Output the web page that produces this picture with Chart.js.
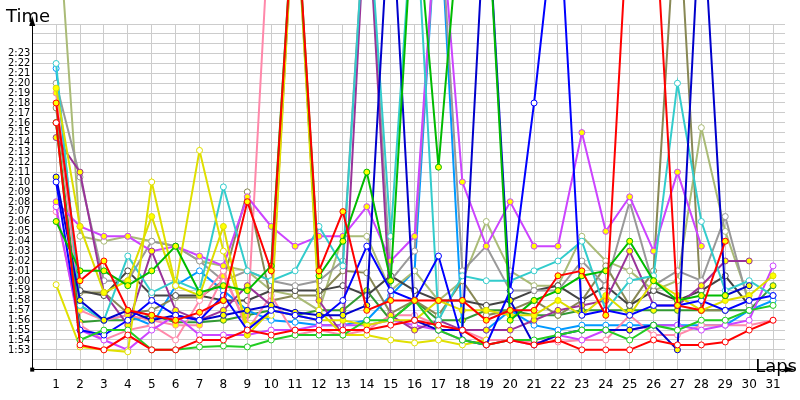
<!DOCTYPE html>
<html><head><meta charset="utf-8">
<script src="https://cdn.jsdelivr.net/npm/chart.js@4/dist/chart.umd.min.js"></script>
<style>html,body{margin:0;padding:0;background:#fff}</style>
</head><body><canvas id="c" width="800" height="400" style="width:800px;height:400px"></canvas>
<script>
const laps = [1,2,3,4,5,6,7,8,9,10,11,12,13,14,15,16,17,18,19,20,21,22,23,24,25,26,27,28,29,30,31];
const OFF = 160; // off-chart (pit stop) values
const red1 = [136,113.5,113,114.5,113,113,114,114,115,114.5,115,115,115,115,115.5,116,115.5,115,113.5,114,113.5,114,113,113,113,114,113.5,113.5,113.8,115,116];
const red2 = [138,120,122,117,116.5,116,116.8,118,128,121,OFF,121,127,117,118,118,118,118,116,117,117,120.5,121,116.5,OFF,OFF,117.5,117,124,null,null];
const green1 = [136,114,115,115,113,113,113.3,113.4,113.3,114,114.5,114.5,114.5,116,116,118,115,114,113.5,114,114,114.5,115,115,114,115.5,115,116,116,117,117.5];
const green2 = [126,121,121,119.5,121,123.5,118.8,119.5,119,121.5,OFF,120.5,124,131,120,OFF,131.5,OFF,OFF,116,118,119,120.5,121,124,120,118,118.5,118.5,null,null];
const blue1 = [130,115,114.5,116,118,116.5,116,118.5,115,117,116.5,116,118,123.5,119,118,122.5,114,113.5,119,138,OFF,116.5,117,116.5,117.5,117.5,118,117,118,118.5];
const navy1 = [130.5,118,116,117,116,116.5,116,116.5,117,117.5,116.8,116.5,116.5,117.5,OFF,116,115,115,OFF,118,113.5,114.5,115,115,115,115.5,113,OFF,118.5,119.5,null];
const yellow1 = [119.6,113.3,113,112.8,130,119.5,133.2,123,115.5,116.5,OFF,117,114.5,114.5,114,113.7,114,113.5,114,null,null,null,null,null,null,null,null,null,null,null,null];
const yellow2 = [139.5,125.5,118.8,120,126.5,119.5,118.5,125.5,114.5,117,116.5,116,116,115.5,116,116,118,117,117,116.5,116.5,118,116.5,118.5,116.5,120,118.5,117,118,118.5,120.5];
const cyan1 = [142,117.5,116,122.5,118.8,120,119,129.5,121,120,121,125.5,121.5,OFF,124.5,OFF,116,120.5,120,120,121,122,124,117,120,120.5,140,126,119,120,118.5];
const purple1 = [134.5,131,118.8,115.5,123,117,116,117,119.5,117.5,OFF,118,114.5,OFF,116.5,115,116,115,115,115,116,117,117.5,118,123,117.5,117.5,119.5,122,122,null];
const violet1 = [128,125.5,124.5,124.5,123,123.5,122.5,121.5,128.5,125.5,123.5,124.5,124.5,127.5,122,124.5,OFF,130,123.5,128,123.5,123.5,135,125,128.5,123,131,123.5,null,null,null];
const violet2 = [127.5,115,114,113,115,116.5,114.5,114.5,114.5,115,115,115.5,115.5,115.5,116,115.5,115,114,113.5,114,113.5,114.5,114,115,115,115.5,115.5,115,115.5,116,121.5];
const pink1 = [127,115.5,114,115,115.5,114,118,121,115,118.5,114.5,115,114.5,115,116.5,116.5,115.5,115,114,114,113.8,113.8,114,114,116.5,114.5,114.5,115.5,115.5,115.5,116];
const pink2 = [139,117,116,116.5,116,115.5,115.5,120.5,115.5,OFF,null,null,null,null,null,null,null,null,null,null,null,null,null,null,null,null,null,null,null,null,null];
const gray1 = [140,130.5,120,120,124,123.5,122,120,121,120,119.5,120,122,OFF,120,123,OFF,121,123.5,119,119,119,122,119.5,128,119.5,121,120,126.5,117.5,null];
const dgray1 = [null,119,118.5,121,118.5,118.5,118.5,118,118,119,119,119,119.5,118.5,120.5,119,118,118,117.5,118,119,119.5,118,119.5,117.5,119,118,119,120.5,117.5,null];
const olive1 = [137.5,118.8,118.8,116.7,117,118.3,118.3,120,129,118,118.5,118.5,121,120.8,116.7,118,116.5,120,116.5,117,118,116.5,118,121.5,117.5,121,OFF,117,117,null,null];
const lolive1 = [OFF,124.5,124,124.5,124,123.5,122,121.5,121,119,118.5,117,124.5,124.5,119,121,118,120,126,121,119.5,119.5,124.5,122,121,119,120,135.5,125,118,null];
const sky1 = [141.5,117.5,116,116.5,115.5,119.5,121,119,117,116,115.8,115.5,115.5,116,118.5,121,OFF,115,115,117,115.5,115,115.5,115.5,115.5,115.5,115.5,115.5,115.5,117,118];
const dgreen1 = [136,115.8,116,116,116.5,115.8,115.8,116,116.5,117,116.5,117,117,119,116,118,116,116,117,117,116.5,116.5,117,117,117,117,117,117,117,117,119.5];
const series = [
 [red1,'#ff0000','#fff'],[red2,'#ff0000','#ffff00'],[green1,'#22cc22','#fff'],[green2,'#00bb00','#ffff00'],
 [blue1,'#0000ff','#fff'],[navy1,'#0000cc','#ffff00'],[yellow1,'#e0e000','#fff'],[yellow2,'#dddd00','#ffff00'],
 [cyan1,'#33cccc','#fff'],[purple1,'#993399','#ffff00'],[violet1,'#cc44ff','#ffff00'],[violet2,'#cc44ff','#fff'],
 [pink1,'#ff88aa','#fff'],[pink2,'#ff88aa','#ffff00'],[gray1,'#999999','#fff'],[dgray1,'#444444','#fff'],
 [olive1,'#888855','#fff'],[lolive1,'#aabb77','#fff'],[sky1,'#0099ff','#fff'],[dgreen1,'#339933','#ffff00']
];
const fmt = v => Math.floor(v/60)+':'+String(v%60).padStart(2,'0');
const decor = {id:'decor',afterDraw(ch){const c=ch.ctx,a=ch.chartArea;c.save();
 c.fillStyle='#000';
 c.beginPath();c.moveTo(a.left,a.top-8);c.lineTo(a.left-3,a.top+2);c.lineTo(a.left+3,a.top+2);c.closePath();c.fill();
 c.beginPath();c.moveTo(a.right+10,a.bottom);c.lineTo(a.right,a.bottom-3);c.lineTo(a.right,a.bottom+3);c.closePath();c.fill();
 c.fillRect(a.left-2,a.bottom-2,4,4);
 c.font='18px "DejaVu Sans"';c.textBaseline='alphabetic';c.textAlign='left';c.fillText('Time',6,22);
 c.textAlign='right';c.fillText('Laps',797,372);c.restore();}};
new Chart(document.getElementById('c'),{type:'line',
 data:{datasets:series.map(([d,col,fill])=>({data:d.map((v,i)=>({x:laps[i],y:v})),borderColor:col,backgroundColor:fill,pointBackgroundColor:fill,pointBorderColor:col,borderWidth:2,pointRadius:3,pointBorderWidth:1,spanGaps:false,tension:0,clip:{left:5,right:5,top:30,bottom:5}}))},
 options:{responsive:false,animation:false,devicePixelRatio:1,layout:{padding:{top:24,right:15,left:6,bottom:0}},
  plugins:{legend:{display:false},tooltip:{enabled:false}},
  scales:{
   x:{type:'linear',min:0,max:31.5,grid:{color:'#cccccc',drawTicks:false},border:{color:'#000',width:1},
      afterBuildTicks:ax=>{ax.ticks=laps.map(v=>({value:v}))},
      ticks:{color:'#000',font:{family:'DejaVu Sans',size:12},padding:8,autoSkip:false,maxRotation:0,callback:v=>String(v)}},
   y:{min:111,max:146,grid:{color:'#cccccc',drawTicks:false},border:{color:'#000',width:1},
      afterBuildTicks:ax=>{const t=[];for(let v=111;v<=146;v++)t.push({value:v});ax.ticks=t},
      ticks:{color:'#000',font:{family:'DejaVu Sans Condensed',size:11},padding:2,autoSkip:false,
        callback:v=>(v>=113&&v<=143)?fmt(v):''}}
  }},plugins:[decor]});
</script>
</body></html>
